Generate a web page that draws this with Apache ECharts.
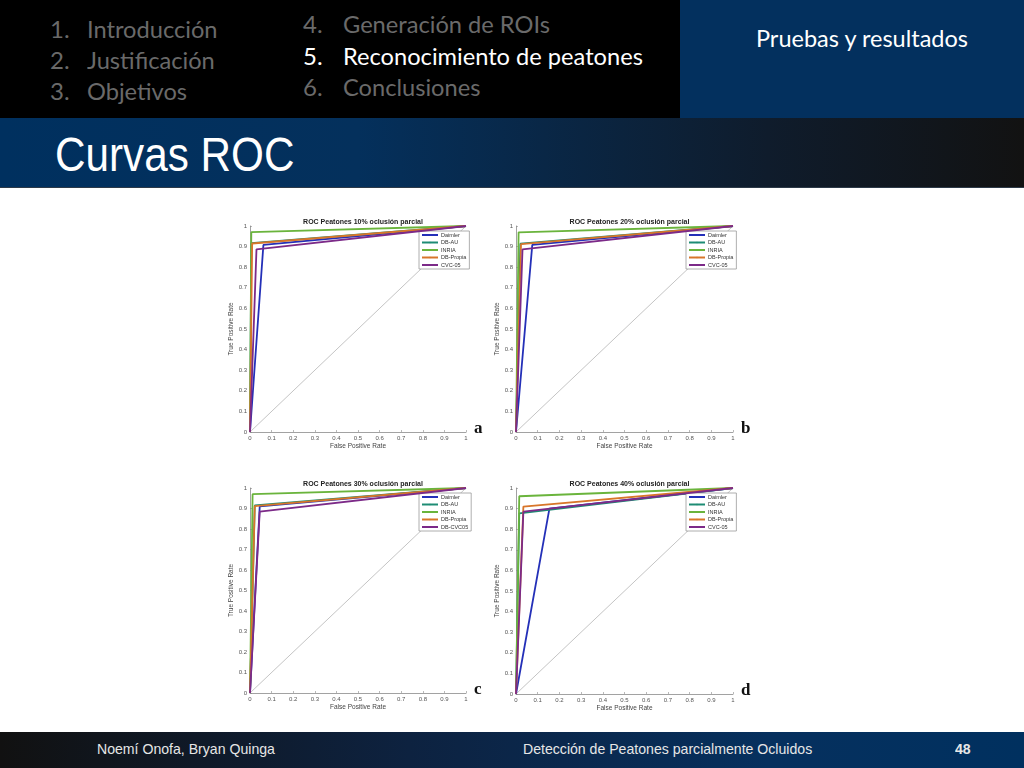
<!DOCTYPE html>
<html>
<head>
    <meta charset="UTF-8">
    <title>Curvas ROC</title>
    <script src="https://cdn.jsdelivr.net/npm/echarts@6.0.0/dist/echarts.min.js"></script>
    <style>
        html, body {
            margin: 0;
            padding: 0;
            width: 1024px;
            height: 768px;
            overflow: hidden;
            background: #fff;
            font-family: Lato, "Open Sans", sans-serif;
        }
        .blk { position: absolute; }
        #menu { left: 0; top: 0; width: 680px; height: 118px; background: #000; }
        #section { left: 680px; top: 0; width: 344px; height: 118px; background: #03305e; }
        #band {
            left: 0; top: 118px; width: 1024px; height: 69px;
            background: linear-gradient(90deg, #00305f 0%, #04305c 35%, #0f1c2c 75%, #121212 100%);
            border-bottom: 1px solid #2d3a48;
        }
        #foot {
            left: 0; top: 732px; width: 1024px; height: 36px;
            background: linear-gradient(90deg, #111111 0%, #0d2240 40%, #06305e 75%, #00305f 100%);
        }
        .item, .num { position: absolute; font-size: 24px; line-height: 24px; color: #6a6a6a; white-space: nowrap; }
        .item { transform: scaleX(0.985); transform-origin: left center; }
        .on { color: #fff; }
        #sectionTxt { position: absolute; left: 680px; width: 364px; top: 26px; text-align: center; color: #fff; font-size: 23.5px; line-height: 24px; }
        #title {
            position: absolute; left: 55px; top: 127px; color: #fff;
            font-family: "Liberation Sans", Arial, sans-serif; font-size: 48px; line-height: 56px;
            transform: scaleX(0.88); transform-origin: left center;
        }
        .ft { position: absolute; top: 740px; color: #e6e6e6; font-family: "Liberation Sans", Arial, sans-serif; font-size: 15px; line-height: 18px; transform: scaleX(0.94); transform-origin: left center; white-space: nowrap; }
        #chart { position: absolute; left: 0; top: 188px; width: 1024px; height: 544px; }
    </style>
</head>
<body>
<div class="blk" id="menu"></div>
<div class="blk" id="section"></div>
<div class="blk" id="band"></div>
<div class="blk" id="foot"></div>

<span class="num" style="left:50px;top:17px">1.</span><span class="item" style="left:87px;top:17px">Introducción</span>
<span class="num" style="left:50px;top:48px">2.</span><span class="item" style="left:87px;top:48px">Justificación</span>
<span class="num" style="left:50px;top:79px">3.</span><span class="item" style="left:87px;top:79px">Objetivos</span>
<span class="num" style="left:303px;top:12px">4.</span><span class="item" style="left:343px;top:12px">Generación de ROIs</span>
<span class="num on" style="left:303px;top:44px">5.</span><span class="item on" style="left:343px;top:44px">Reconocimiento de peatones</span>
<span class="num" style="left:303px;top:75px">6.</span><span class="item" style="left:343px;top:75px">Conclusiones</span>
<div id="sectionTxt">Pruebas y resultados</div>
<div id="title">Curvas ROC</div>

<div class="ft" style="left:97px">Noemí Onofa, Bryan Quinga</div>
<div class="ft" style="left:523px">Detección de Peatones parcialmente Ocluidos</div>
<div class="ft" style="left:955px;font-weight:bold">48</div>

<div id="chart"></div>
</body>
<script>
    // nombres de los detectores (la grafica c usa DB-CVC05)
    var names = ['Daimler', 'DB-AU', 'INRIA', 'DB-Propia', 'CVC-05'];
    var namesC = ['Daimler', 'DB-AU', 'INRIA', 'DB-Propia', 'DB-CVC05'];
    var titles = ['ROC Peatones 10% oclusión parcial', 'ROC Peatones 20% oclusión parcial',
                  'ROC Peatones 30% oclusión parcial', 'ROC Peatones 40% oclusión parcial'];
    var letters = ['a', 'b', 'c', 'd'];
    var ticks = [0, 0.1, 0.2, 0.3, 0.4, 0.5, 0.6, 0.7, 0.8, 0.9, 1];

    // punto de operacion (FPR, TPR) de cada detector, en orden de names
    var fpr10 = [0.062, 0.006, 0.006, 0.010, 0.030];
    var tpr10 = [0.908, 0.917, 0.970, 0.915, 0.887];
    var fpr20 = [0.075, 0.020, 0.012, 0.023, 0.030];
    var tpr20 = [0.908, 0.914, 0.969, 0.912, 0.887];
    var fpr30 = [0.045, 0.022, 0.012, 0.022, 0.045];
    var tpr30 = [0.910, 0.915, 0.970, 0.912, 0.885];
    var fpr40 = [0.154, 0.015, 0.015, 0.034, 0.034];
    var tpr40 = [0.900, 0.877, 0.960, 0.910, 0.885];

    var colors = ['#2430b8', '#1e8c74', '#6ab43c', '#d8762a', '#7c2a88'];

    var panels = [
        {fpr: fpr10, tpr: tpr10, names: names},
        {fpr: fpr20, tpr: tpr20, names: names},
        {fpr: fpr30, tpr: tpr30, names: namesC},
        {fpr: fpr40, tpr: tpr40, names: names}
    ];
    var boxes = [
        {left: 250, top: 38, width: 216, height: 206},
        {left: 516, top: 38, width: 217, height: 206},
        {left: 250, top: 300, width: 216, height: 205},
        {left: 516, top: 300, width: 217, height: 206}
    ];

    var chart = echarts.init(document.getElementById('chart'));
    var option = {
        animation: false,
        backgroundColor: '#fff',
        title: [], grid: [], xAxis: [], yAxis: [], legend: [], series: [], graphic: []
    };

    var fmt = function (v) { return String(+v.toFixed(1)); };

    for (let i = 0; i < panels.length; i++) {
        var b = boxes[i];
        var p = panels[i];
        option.grid.push({left: b.left, top: b.top, width: b.width, height: b.height, containLabel: false});
        option.title.push({
            text: titles[i], left: b.left + b.width / 2, top: b.top - 12, textAlign: 'center',
            textStyle: {fontSize: 7, fontWeight: 'bold', color: '#222', fontFamily: 'Liberation Sans'}
        });
        var axisCommon = {
            gridIndex: i, type: 'value', min: 0, max: 1, interval: 0.1,
            nameLocation: 'middle',
            nameTextStyle: {fontSize: 6.5, color: '#444', fontFamily: 'Liberation Sans'},
            axisLine: {show: true, lineStyle: {color: '#8a8a8a', width: 0.8}},
            axisTick: {show: true, inside: true, length: 2, lineStyle: {color: '#8a8a8a', width: 0.6}},
            axisLabel: {fontSize: 6, color: '#555', margin: 3, formatter: fmt, fontFamily: 'Liberation Sans'},
            splitLine: {show: false}
        };
        option.xAxis.push(Object.assign({}, axisCommon, {name: 'False Positive Rate', nameGap: 11}));
        option.yAxis.push(Object.assign({}, axisCommon, {name: 'True Positive Rate', nameGap: 14}));

        // diagonal de referencia
        option.series.push({
            type: 'line', xAxisIndex: i, yAxisIndex: i, silent: true, symbol: 'none',
            data: [[ticks[0], ticks[0]], [ticks[10], ticks[10]]],
            lineStyle: {color: '#c4c4c4', width: 1}, z: 1
        });
        for (let k = 0; k < p.names.length; k++) {
            option.series.push({
                name: p.names[k], type: 'line', xAxisIndex: i, yAxisIndex: i,
                symbol: 'none', color: colors[k],
                data: [[0, 0], [p.fpr[k], p.tpr[k]], [1, 1]],
                lineStyle: {width: 1.8, color: colors[k]}, z: 2 + k
            });
        }
        option.legend.push({
            data: p.names, orient: 'vertical',
            left: b.left + b.width - 47, top: b.top + 5,
            itemWidth: 16, itemHeight: 2, itemGap: 1.5,
            padding: [1, 3, 1, 2],
            backgroundColor: '#fff', borderColor: '#9a9a9a', borderWidth: 0.8, borderRadius: 0,
            textStyle: {fontSize: 5.5, color: '#333', fontFamily: 'Liberation Sans', padding: [0, 0, 0, -2]},
            selectedMode: false
        });
        option.graphic.push({
            type: 'text', left: b.left + b.width + 8, top: b.top + b.height - 12,
            style: {text: letters[i], fontSize: 17, fontWeight: 'bold', fill: '#111', fontFamily: 'Liberation Serif'}
        });
    }

    chart.setOption(option);
</script>
</html>
